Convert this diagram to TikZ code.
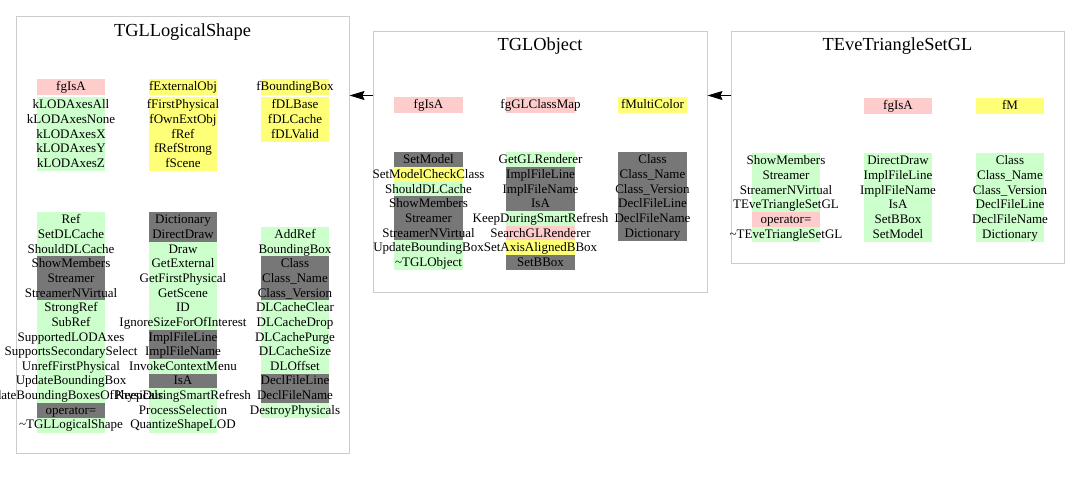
\documentclass[tikz,border=0pt]{standalone}
\usepackage{fontspec}
\setmainfont{Liberation Serif}
\usetikzlibrary{arrows.meta,backgrounds}
\definecolor{pubgreen}{RGB}{204,255,204}
\definecolor{protyellow}{RGB}{255,255,119}
\definecolor{privpink}{RGB}{255,204,204}
\definecolor{sysgray}{RGB}{119,119,119}
\tikzset{
  classbox/.style={draw=black!20, line width=1pt, inner sep=0pt},
  classtitle/.style={inner sep=0pt, font=\fontsize{18.4}{20}\selectfont},
  member/.style={inner sep=0pt, minimum height=14.65pt, text height=10.8pt, text depth=3.2pt, font=\fontsize{13}{14}\selectfont},
  inherit/.style={-{Stealth[length=15pt,width=9pt,inset=2pt]}, line width=1pt}
}
\newcommand{\memberlist}[4]{%
  \foreach [count=\i] \mname/\mcol in {#4}{
    \node[member] (#1-\i) at (#2,{#3+14.65*(\i-1)}) {\makebox[68pt]{\mname}};
    \scoped[on background layer] \fill[\mcol] (#1-\i.south west) rectangle (#1-\i.north east);
  }%
}
\begin{document}
\begin{tikzpicture}[x=1pt,y=-1pt]
\useasboundingbox (0,0) rectangle (1080,480);
\node[classbox, minimum width=333pt, minimum height=437pt] (ls) at (182.5,234.5) {};
\node[classbox, minimum width=334pt, minimum height=261pt] (go) at (540,161.5) {};
\node[classbox, minimum width=333pt, minimum height=232pt] (te) at (897.5,147) {};
\node[classtitle] (ls-title) at ([yshift=-17pt]ls.north) {TGLLogicalShape};
\node[classtitle] (go-title) at ([yshift=-16pt]go.north) {TGLObject};
\node[classtitle] (te-title) at ([yshift=-16pt]te.north) {TEveTriangleSetGL};

\memberlist{ls-d1}{71}{87}{fgIsA/privpink}
\memberlist{ls-d2}{71}{105}{kLODAxesAll/pubgreen, kLODAxesNone/pubgreen, kLODAxesX/pubgreen, kLODAxesY/pubgreen, kLODAxesZ/pubgreen}
\memberlist{ls-d3}{183}{87}{fExternalObj/protyellow}
\memberlist{ls-d4}{183}{105}{fFirstPhysical/protyellow, fOwnExtObj/protyellow, fRef/protyellow, fRefStrong/protyellow, fScene/protyellow}
\memberlist{ls-d5}{295}{87}{fBoundingBox/protyellow}
\memberlist{ls-d6}{295}{105}{fDLBase/protyellow, fDLCache/protyellow, fDLValid/protyellow}
\memberlist{ls-m1}{71}{220}{Ref/pubgreen, SetDLCache/pubgreen, ShouldDLCache/pubgreen, ShowMembers/sysgray, Streamer/sysgray, StreamerNVirtual/sysgray, StrongRef/pubgreen, SubRef/pubgreen, SupportedLODAxes/pubgreen, SupportsSecondarySelect/pubgreen, UnrefFirstPhysical/pubgreen, UpdateBoundingBox/pubgreen, UpdateBoundingBoxesOfPhysicals/pubgreen, operator=/sysgray, \textasciitilde TGLLogicalShape/pubgreen}
\memberlist{ls-m2}{183}{220}{Dictionary/sysgray, DirectDraw/sysgray, Draw/pubgreen, GetExternal/pubgreen, GetFirstPhysical/pubgreen, GetScene/pubgreen, ID/pubgreen, IgnoreSizeForOfInterest/pubgreen, ImplFileLine/sysgray, ImplFileName/sysgray, InvokeContextMenu/pubgreen, IsA/sysgray, KeepDuringSmartRefresh/pubgreen, ProcessSelection/pubgreen, QuantizeShapeLOD/pubgreen}
\memberlist{ls-m3}{295}{234.65}{AddRef/pubgreen, BoundingBox/pubgreen, Class/sysgray, Class\_Name/sysgray, Class\_Version/sysgray, DLCacheClear/pubgreen, DLCacheDrop/pubgreen, DLCachePurge/pubgreen, DLCacheSize/pubgreen, DLOffset/pubgreen, DeclFileLine/sysgray, DeclFileName/sysgray, DestroyPhysicals/pubgreen}

\memberlist{go-d1}{428.5}{105}{fgIsA/privpink}
\memberlist{go-d2}{540.5}{105}{fgGLClassMap/privpink}
\memberlist{go-d3}{652.5}{105}{fMultiColor/protyellow}
\memberlist{go-m1}{428.5}{160}{SetModel/sysgray, SetModelCheckClass/protyellow, ShouldDLCache/pubgreen, ShowMembers/sysgray, Streamer/sysgray, StreamerNVirtual/sysgray, UpdateBoundingBox/pubgreen, \textasciitilde TGLObject/pubgreen}
\memberlist{go-m2}{540.5}{160}{GetGLRenderer/pubgreen, ImplFileLine/sysgray, ImplFileName/sysgray, IsA/sysgray, KeepDuringSmartRefresh/pubgreen, SearchGLRenderer/privpink, SetAxisAlignedBBox/protyellow, SetBBox/sysgray}
\memberlist{go-m3}{652.5}{160}{Class/sysgray, Class\_Name/sysgray, Class\_Version/sysgray, DeclFileLine/sysgray, DeclFileName/sysgray, Dictionary/sysgray}

\memberlist{te-d1}{898}{106}{fgIsA/privpink}
\memberlist{te-d2}{1010}{106}{fM/protyellow}
\memberlist{te-m1}{786}{161}{ShowMembers/pubgreen, Streamer/pubgreen, StreamerNVirtual/pubgreen, TEveTriangleSetGL/pubgreen, operator=/privpink, \textasciitilde TEveTriangleSetGL/pubgreen}
\memberlist{te-m2}{898}{161}{DirectDraw/pubgreen, ImplFileLine/pubgreen, ImplFileName/pubgreen, IsA/pubgreen, SetBBox/pubgreen, SetModel/pubgreen}
\memberlist{te-m3}{1010}{161}{Class/pubgreen, Class\_Name/pubgreen, Class\_Version/pubgreen, DeclFileLine/pubgreen, DeclFileName/pubgreen, Dictionary/pubgreen}

\coordinate (inhrow) at (0,95.5);
\draw[inherit] (go.west |- inhrow) -- (ls.east |- inhrow);
\draw[inherit] (te.west |- inhrow) -- (go.east |- inhrow);
\end{tikzpicture}
\end{document}
